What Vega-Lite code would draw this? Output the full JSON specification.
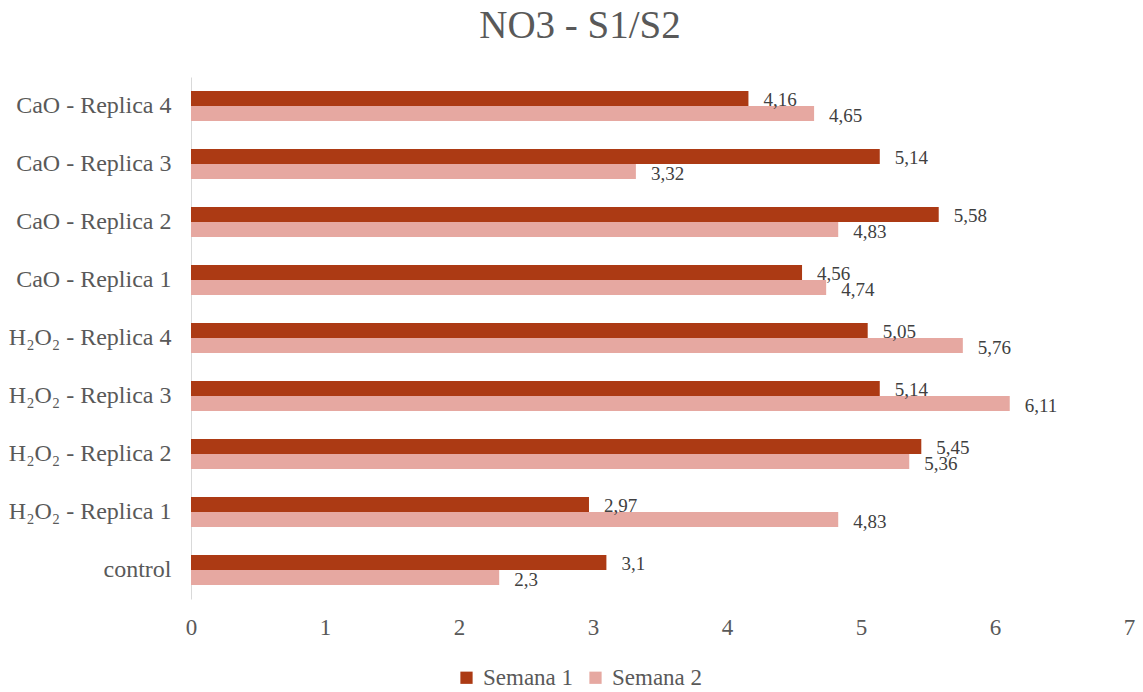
{
  "$schema": "https://vega.github.io/schema/vega-lite/v6.json",
  "width": 938,
  "height": 522,
  "autosize": {"type": "none"},
  "padding": {"left": 191, "top": 77, "right": 14, "bottom": 93},
  "background": "white",
  "config": {
    "font": "Liberation Serif",
    "view": {"stroke": null},
    "locale": {"number": {"decimal": ",", "thousands": ".", "grouping": [3], "currency": ["", " €"]}}
  },
  "title": {
    "text": "NO3 - S1/S2",
    "fontSize": 39,
    "font": "Liberation Serif",
    "fontWeight": "normal",
    "color": "#595959",
    "anchor": "middle",
    "dx": -80,
    "offset": 31
  },
  "data": {
    "values": [
      {"cat": "CaO - Replica 4", "serie": "Semana 1", "v": 4.16},
      {"cat": "CaO - Replica 4", "serie": "Semana 2", "v": 4.65},
      {"cat": "CaO - Replica 3", "serie": "Semana 1", "v": 5.14},
      {"cat": "CaO - Replica 3", "serie": "Semana 2", "v": 3.32},
      {"cat": "CaO - Replica 2", "serie": "Semana 1", "v": 5.58},
      {"cat": "CaO - Replica 2", "serie": "Semana 2", "v": 4.83},
      {"cat": "CaO - Replica 1", "serie": "Semana 1", "v": 4.56},
      {"cat": "CaO - Replica 1", "serie": "Semana 2", "v": 4.74},
      {"cat": "H₂O₂ - Replica 4", "serie": "Semana 1", "v": 5.05},
      {"cat": "H₂O₂ - Replica 4", "serie": "Semana 2", "v": 5.76},
      {"cat": "H₂O₂ - Replica 3", "serie": "Semana 1", "v": 5.14},
      {"cat": "H₂O₂ - Replica 3", "serie": "Semana 2", "v": 6.11},
      {"cat": "H₂O₂ - Replica 2", "serie": "Semana 1", "v": 5.45},
      {"cat": "H₂O₂ - Replica 2", "serie": "Semana 2", "v": 5.36},
      {"cat": "H₂O₂ - Replica 1", "serie": "Semana 1", "v": 2.97},
      {"cat": "H₂O₂ - Replica 1", "serie": "Semana 2", "v": 4.83},
      {"cat": "control", "serie": "Semana 1", "v": 3.1},
      {"cat": "control", "serie": "Semana 2", "v": 2.3}
    ]
  },
  "encoding": {
    "y": {
      "field": "cat",
      "type": "nominal",
      "sort": null,
      "scale": {"paddingInner": 0.48, "paddingOuter": 0.24},
      "axis": {
        "title": null,
        "ticks": false,
        "domain": true,
        "domainColor": "#d9d9d9",
        "domainWidth": 1,
        "labelFont": "Liberation Serif",
        "labelFontSize": 24,
        "labelColor": "#595959",
        "labelPadding": 20,
        "labelLimit": 300
      }
    },
    "yOffset": {
      "field": "serie",
      "type": "nominal",
      "scale": {"domain": ["Semana 1", "Semana 2"], "paddingInner": 0}
    },
    "x": {
      "field": "v",
      "type": "quantitative",
      "scale": {"domain": [0, 7], "nice": false},
      "axis": {
        "title": null,
        "values": [0, 1, 2, 3, 4, 5, 6, 7],
        "format": "d",
        "grid": false,
        "ticks": false,
        "domain": false,
        "labelFlush": false,
        "labelFont": "Liberation Serif",
        "labelFontSize": 23,
        "labelColor": "#595959",
        "labelPadding": 17
      }
    }
  },
  "layer": [
    {
      "mark": {"type": "bar"},
      "encoding": {
        "color": {
          "field": "serie",
          "type": "nominal",
          "scale": {"domain": ["Semana 1", "Semana 2"], "range": ["#AC3A14", "#E6A8A1"]},
          "legend": {
            "title": null,
            "orient": "none",
            "direction": "horizontal",
            "legendX": 264,
            "legendY": 589,
            "symbolType": "square",
            "symbolSize": 150,
            "symbolStrokeWidth": 0,
            "labelFont": "Liberation Serif",
            "labelFontSize": 23,
            "labelColor": "#595959",
            "labelOffset": 5,
            "columnSpacing": 22
          }
        }
      }
    },
    {
      "mark": {
        "type": "text",
        "align": "left",
        "baseline": "middle",
        "dx": 15,
        "dy": 2,
        "font": "Liberation Serif",
        "fontSize": 19,
        "color": "#404040"
      },
      "encoding": {
        "text": {"field": "v", "type": "quantitative", "format": "~r"}
      }
    }
  ]
}
